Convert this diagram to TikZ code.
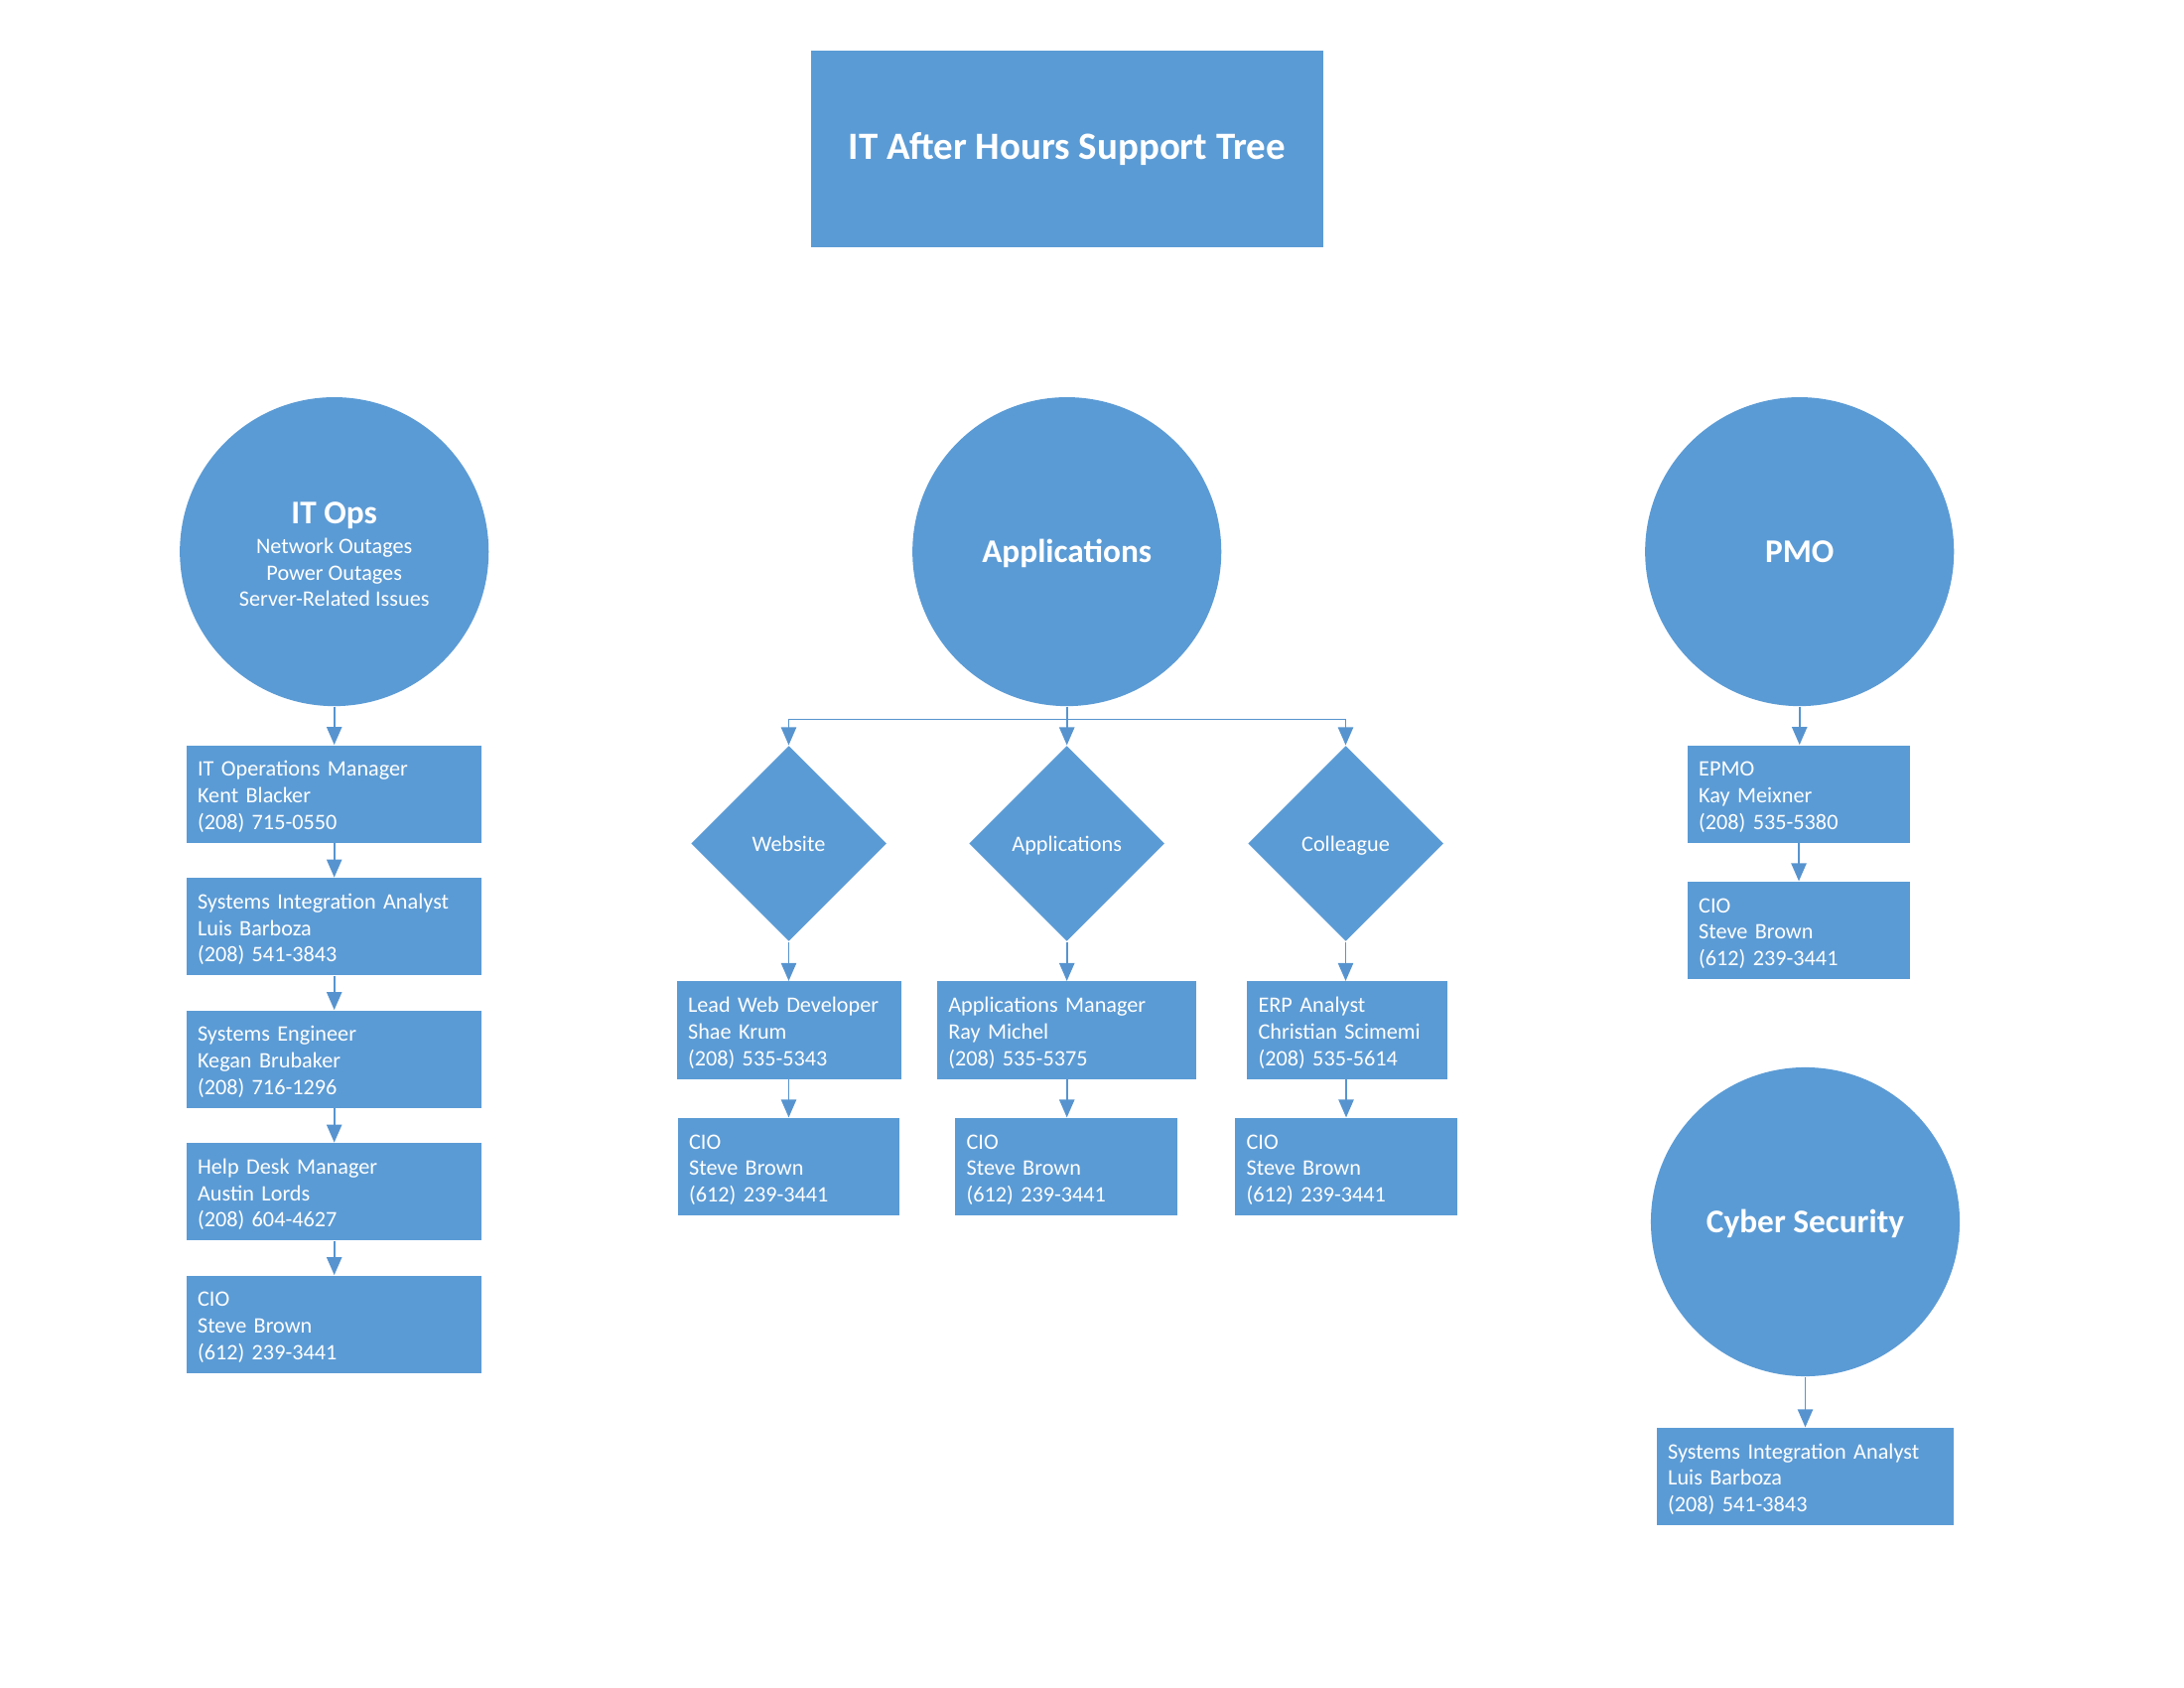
\documentclass[tikz,border=0pt]{standalone}
\usepackage{fontspec}
\setmainfont{Carlito}
\usetikzlibrary{arrows.meta,shapes.geometric}
\definecolor{blu}{HTML}{5B9BD5}
\definecolor{arrblu}{HTML}{5794CF}
\begin{document}
\begin{tikzpicture}[x=0.36pt,y=-0.36pt,
  boxtxt/.style={font=\fontsize{8}{9.6}\selectfont},
  infobox/.style={rectangle, fill=blu, text=white, boxtxt, minimum height=35.3pt,
    inner xsep=4pt, inner ysep=0pt, align=left, text width=#1,
    execute at begin node={\rule{0pt}{7.5pt}}},
  bigcirc/.style={circle, fill=blu, text=white, minimum size=112pt, inner sep=0pt, align=center, boxtxt},
  decision/.style={diamond, fill=blu, text=white, minimum width=70.9pt, minimum height=70.9pt, aspect=1,
    inner sep=0pt, boxtxt, text height=7.5pt, text depth=1.7pt},
  arr/.style={draw=arrblu, line width=0.6pt, -{Triangle[length=6.5pt,width=5.5pt]}},
  ctitle/.style={font=\fontsize{12}{14}\selectfont\bfseries, text height=10.7pt, text depth=2.5pt}
]
\useasboundingbox (0,0) rectangle (2200,1700);

% Title
\node[rectangle, fill=blu, text=white, minimum width=185.9pt, minimum height=71.3pt, inner sep=0pt,
  font=\fontsize{14}{17}\selectfont\bfseries, text height=11pt, text depth=3.6pt] (title) at (1074.7,150) {IT After Hours Support Tree};

% Circles
\node[bigcirc] (itops) at (336.7,555.6) {\rule{0pt}{9.7pt}{\fontsize{12}{14}\selectfont\bfseries IT Ops}\\[1.4pt]Network Outages\\Power Outages\\Server-Related Issues};
\node[bigcirc, ctitle] (apps) at (1074.7,555.6) {Applications};
\node[bigcirc, ctitle] (pmo) at (1812.7,555.6) {PMO};
\node[bigcirc, ctitle] (cyber) at (1818.5,1230.5) {Cyber Security};

% IT Ops column
\node[infobox=99.1pt] (l1) at (336.7,799.7) {IT Operations Manager\\Kent Blacker\\(208) 715-0550};
\node[infobox=99.1pt] (l2) at (336.7,933.2) {Systems Integration Analyst\\Luis Barboza\\(208) 541-3843};
\node[infobox=99.1pt] (l3) at (336.7,1066.7) {Systems Engineer\\Kegan Brubaker\\(208) 716-1296};
\node[infobox=99.1pt] (l4) at (336.7,1200.2) {Help Desk Manager\\Austin Lords\\(208) 604-4627};
\node[infobox=99.1pt] (l5) at (336.7,1333.7) {CIO\\Steve Brown\\(612) 239-3441};

\draw[arr] (itops.south) -- (l1.north);
\draw[arr] (l1.south) -- (l2.north);
\draw[arr] (l2.south) -- (l3.north);
\draw[arr] (l3.south) -- (l4.north);
\draw[arr] (l4.south) -- (l5.north);

% Applications column
\node[decision] (dweb) at (794.5,849.5) {Website};
\node[decision] (dapp) at (1074.7,849.5) {Applications};
\node[decision] (dcol) at (1355.5,849.5) {Colleague};
\coordinate (br) at (1074.7,724.5);
\draw[draw=arrblu, line width=0.6pt] (apps.south) -- (br);
\draw[arr] (br) -| (dweb.north);
\draw[arr] (br) -- (dapp.north);
\draw[arr] (br) -| (dcol.north);

\node[infobox=73.4pt] (bweb) at (795,1037.5) {Lead Web Developer\\Shae Krum\\(208) 535-5343};
\node[infobox=86pt] (bapp) at (1074.7,1037.5) {Applications Manager\\Ray Michel\\(208) 535-5375};
\node[infobox=64.4pt] (bcol) at (1357,1037.5) {ERP Analyst\\Christian Scimemi\\(208) 535-5614};

\node[infobox=72.3pt] (cweb) at (794.5,1175) {CIO\\Steve Brown\\(612) 239-3441};
\node[infobox=72.3pt] (capp) at (1074,1175) {CIO\\Steve Brown\\(612) 239-3441};
\node[infobox=72.3pt] (ccol) at (1356,1175) {CIO\\Steve Brown\\(612) 239-3441};

\draw[arr] (dweb.south) -- (dweb.south |- bweb.north);
\draw[arr] (dapp.south) -- (dapp.south |- bapp.north);
\draw[arr] (dcol.south) -- (dcol.south |- bcol.north);
\draw[arr] (cweb.north |- bweb.south) -- (cweb.north);
\draw[arr] (bapp.south) -- (bapp.south |- capp.north);
\draw[arr] (ccol.north |- bcol.south) -- (ccol.north);

% PMO column
\node[infobox=72.6pt] (epmo) at (1812,799.7) {EPMO\\Kay Meixner\\(208) 535-5380};
\node[infobox=72.6pt] (cpmo) at (1812,937) {CIO\\Steve Brown\\(612) 239-3441};
\draw[arr] (pmo.south) -- (pmo.south |- epmo.north);
\draw[arr] (epmo.south) -- (cpmo.north);

% Cyber Security
\node[infobox=99.6pt] (bcyber) at (1818.5,1487) {Systems Integration Analyst\\Luis Barboza\\(208) 541-3843};
\draw[arr] (cyber.south) -- (bcyber.north);
\end{tikzpicture}
\end{document}
